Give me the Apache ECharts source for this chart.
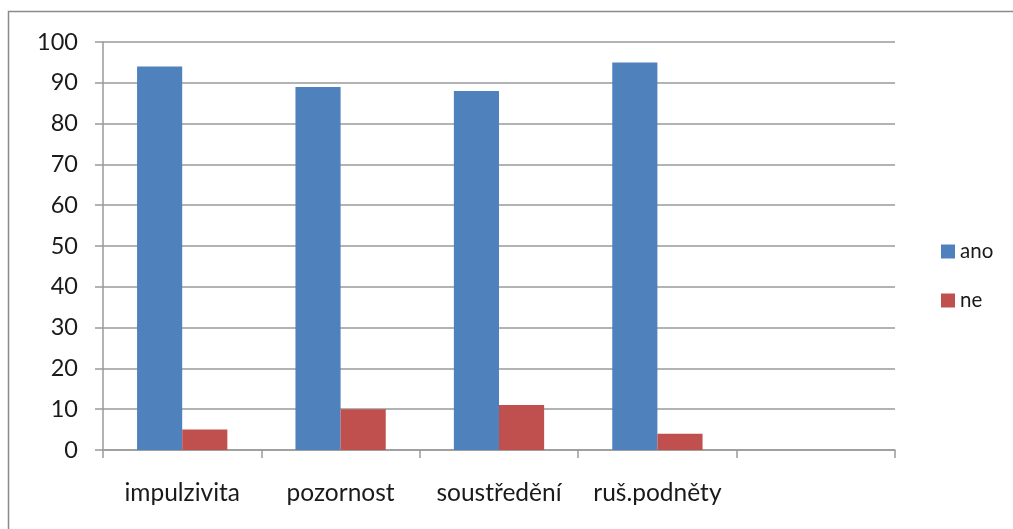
<!DOCTYPE html>
<html>
<head>
<meta charset="utf-8">
<script src="https://cdn.jsdelivr.net/npm/echarts@6/dist/echarts.min.js"></script>
<style>
  html, body { margin: 0; padding: 0; background: #fff; }
  #chart { width: 1013px; height: 529px; }
</style>
</head>
<body>
<div id="chart"></div>
<script>
// Survey answers per area (last slot intentionally empty)
const categories = ['impulzivita', 'pozornost', 'soustředění', 'ruš.podněty', ''];
const anoValues = [94, 89, 88, 95, null];
const neValues = [5, 10, 11, 4, null];
const seriesNames = ['ano', 'ne'];

const FONT = 'Lato, "Open Sans", sans-serif';
const chart = echarts.init(document.getElementById('chart'));

chart.setOption({
  animation: false,
  backgroundColor: '#ffffff',
  graphic: [{
    type: 'rect',
    shape: { x: 8.5, y: 11.5, width: 1020, height: 540 },
    style: { fill: 'none', stroke: '#8a8a8a', lineWidth: 1.5 },
    silent: true
  }],
  grid: { left: 103, right: 118, top: 42, bottom: 79 },
  legend: {
    orient: 'vertical',
    left: 936,
    top: 236,
    itemWidth: 14,
    itemHeight: 14,
    itemGap: 28,
    itemStyle: { borderWidth: 0 },
    icon: 'rect',
    textStyle: { fontFamily: FONT, fontSize: 20.5, color: '#1a1a1a' },
    data: seriesNames
  },
  xAxis: {
    type: 'category',
    data: categories,
    axisLine: { lineStyle: { color: '#9a9a9a', width: 1.5 } },
    axisTick: { show: true, alignWithLabel: false, length: 8, lineStyle: { color: '#9a9a9a', width: 1.5 } },
    axisLabel: { margin: 31, fontFamily: FONT, fontSize: 24.5, color: '#1a1a1a', interval: 0 }
  },
  yAxis: {
    type: 'value',
    min: 0,
    max: 100,
    interval: 10,
    axisLine: { show: true, lineStyle: { color: '#9a9a9a', width: 1.5 } },
    axisTick: { show: true, length: 8, lineStyle: { color: '#9a9a9a', width: 1.5 } },
    splitLine: { lineStyle: { color: '#9a9a9a', width: 1.5 } },
    axisLabel: { margin: 25, fontFamily: FONT, fontSize: 23.5, color: '#1a1a1a' }
  },
  series: [
    {
      name: seriesNames[0],
      type: 'bar',
      data: anoValues,
      barGap: '0%',
      barCategoryGap: '43%',
      itemStyle: { color: '#4F81BD' }
    },
    {
      name: seriesNames[1],
      type: 'bar',
      data: neValues,
      itemStyle: { color: '#C0504D' }
    }
  ]
});
</script>
</body>
</html>
